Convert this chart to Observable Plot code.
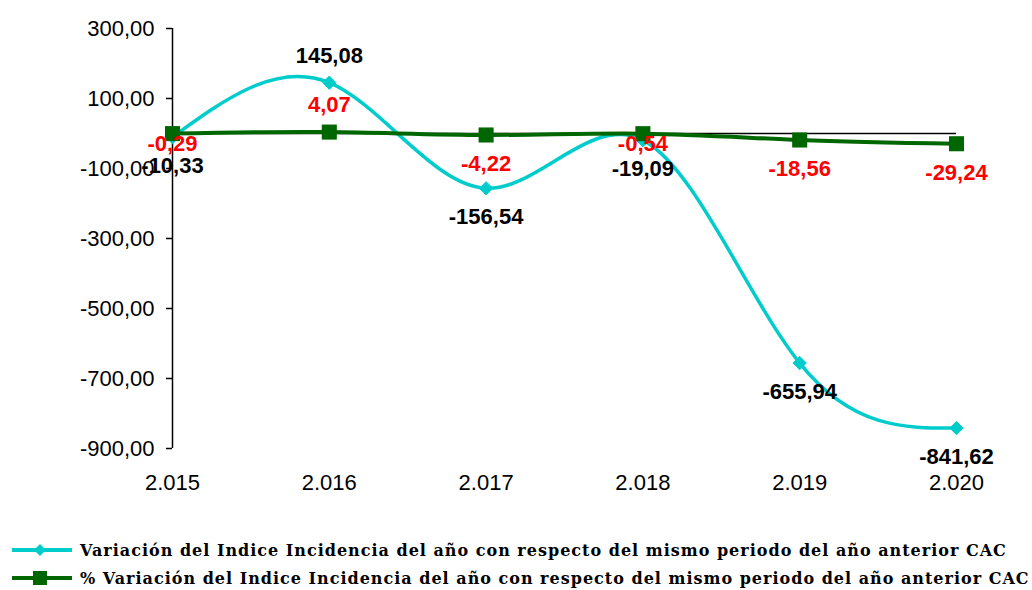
<!DOCTYPE html>
<html>
<head>
<meta charset="utf-8">
<script src="https://cdn.jsdelivr.net/npm/d3@7"></script>
<script src="https://cdn.jsdelivr.net/npm/@observablehq/plot@0.6"></script>
<style>
  body { margin: 0; background: #fff; }
  #legend { margin-top: 36px; font-family: "DejaVu Serif", serif; font-weight: bold; font-size: 16px; letter-spacing: 1px; color: #000; }
  .row { display: flex; align-items: center; height: 28px; white-space: nowrap; }
  .row svg { margin-left: 12px; margin-right: 8px; flex: none; }
</style>
</head>
<body>
<div id="chart"></div>
<div id="legend"></div>
<script>
const years = [2015, 2016, 2017, 2018, 2019, 2020];
const yearLabels = ["2.015", "2.016", "2.017", "2.018", "2.019", "2.020"];
const variacion = [-10.33, 145.08, -156.54, -19.09, -655.94, -841.62];
const variacionLabels = ["-10,33", "145,08", "-156,54", "-19,09", "-655,94", "-841,62"];
const pctVariacion = [-0.29, 4.07, -4.22, -0.54, -18.56, -29.24];
const pctLabels = ["-0,29", "4,07", "-4,22", "-0,54", "-18,56", "-29,24"];
const yTicks = [300, 100, -100, -300, -500, -700, -900];
const yTickLabels = ["300,00", "100,00", "-100,00", "-300,00", "-500,00", "-700,00", "-900,00"];
// label placement categories (relative to the point)
const variacionPlace = ["below", "above", "below", "below", "below", "below"];
const pctPlace = ["near", "above", "below", "near", "below", "below"];
const seriesNames = [
  "Variación del Indice Incidencia del año con respecto del mismo periodo del año anterior CAC",
  "% Variación del Indice Incidencia del año con respecto del mismo periodo del año anterior CAC"
];
const cyan = "#00CCCC";
const green = "#006600";

const s1 = years.map((x, i) => ({x, y: variacion[i], label: variacionLabels[i], place: variacionPlace[i]}));
const s2 = years.map((x, i) => ({x, y: pctVariacion[i], label: pctLabels[i], place: pctPlace[i]}));

const fmtY = d => yTickLabels[yTicks.indexOf(d)];
const fmtX = d => yearLabels[years.indexOf(d)];

const txt = {x: "x", y: "y", text: "label", fontSize: 22, fontWeight: "bold"};

const chart = Plot.plot({
  width: 1032,
  height: 500,
  marginLeft: 172,
  marginRight: 76,
  marginTop: 28,
  marginBottom: 52,
  style: {fontFamily: "'Liberation Sans', Arial, sans-serif", fontSize: "22px", color: "#000", background: "#fff"},
  x: {type: "linear", domain: [2015, 2020]},
  y: {domain: [-900, 300]},
  marks: [
    Plot.axisX({ticks: years, tickFormat: fmtX, tickSize: 0, tickPadding: 26, fontSize: 22, label: null}),
    Plot.axisY({ticks: yTicks, tickFormat: fmtY, tickSize: 6, tickPadding: 12, fontSize: 22, label: null, stroke: "#000", strokeWidth: 1.5}),
    Plot.ruleX([2015], {y1: -900, y2: 300, stroke: "#000", strokeWidth: 1.5}),
    Plot.ruleY([0], {x1: 2015, x2: 2020, stroke: "#000", strokeWidth: 1.5}),
    Plot.line(s1, {x: "x", y: "y", stroke: cyan, strokeWidth: 3.5, curve: "natural"}),
    Plot.line(s2, {x: "x", y: "y", stroke: green, strokeWidth: 4, curve: "natural"}),
    Plot.dot(s1, {x: "x", y: "y", symbol: "diamond2", r: 6, fill: cyan, stroke: cyan, strokeWidth: 1}),
    Plot.dot(s2, {x: "x", y: "y", symbol: "square", r: 8.5, fill: green}),
    Plot.text(s1, {...txt, filter: d => d.place === "above", dy: -27, fill: "#000"}),
    Plot.text(s1, {...txt, filter: d => d.place === "below", dy: 29, fill: "#000"}),
    Plot.text(s2, {...txt, filter: d => d.place === "above", dy: -27, fill: "#FF0000"}),
    Plot.text(s2, {...txt, filter: d => d.place === "near", dy: 10, fill: "#FF0000"}),
    Plot.text(s2, {...txt, filter: d => d.place === "below", dy: 29, fill: "#FF0000"})
  ]
});
document.getElementById("chart").appendChild(chart);

const legend = document.getElementById("legend");
const swatches = [
  `<svg width="60" height="16"><line x1="0" y1="8" x2="60" y2="8" stroke="${cyan}" stroke-width="4"/><path d="M28,2 L34,8 L28,14 L22,8 Z" fill="${cyan}"/></svg>`,
  `<svg width="60" height="16"><line x1="0" y1="8" x2="60" y2="8" stroke="${green}" stroke-width="4"/><rect x="21" y="1" width="14" height="14" fill="${green}"/></svg>`
];
seriesNames.forEach((name, i) => {
  const row = document.createElement("div");
  row.className = "row";
  row.innerHTML = swatches[i] + `<span>${name}</span>`;
  legend.appendChild(row);
});
</script>
</body>
</html>
